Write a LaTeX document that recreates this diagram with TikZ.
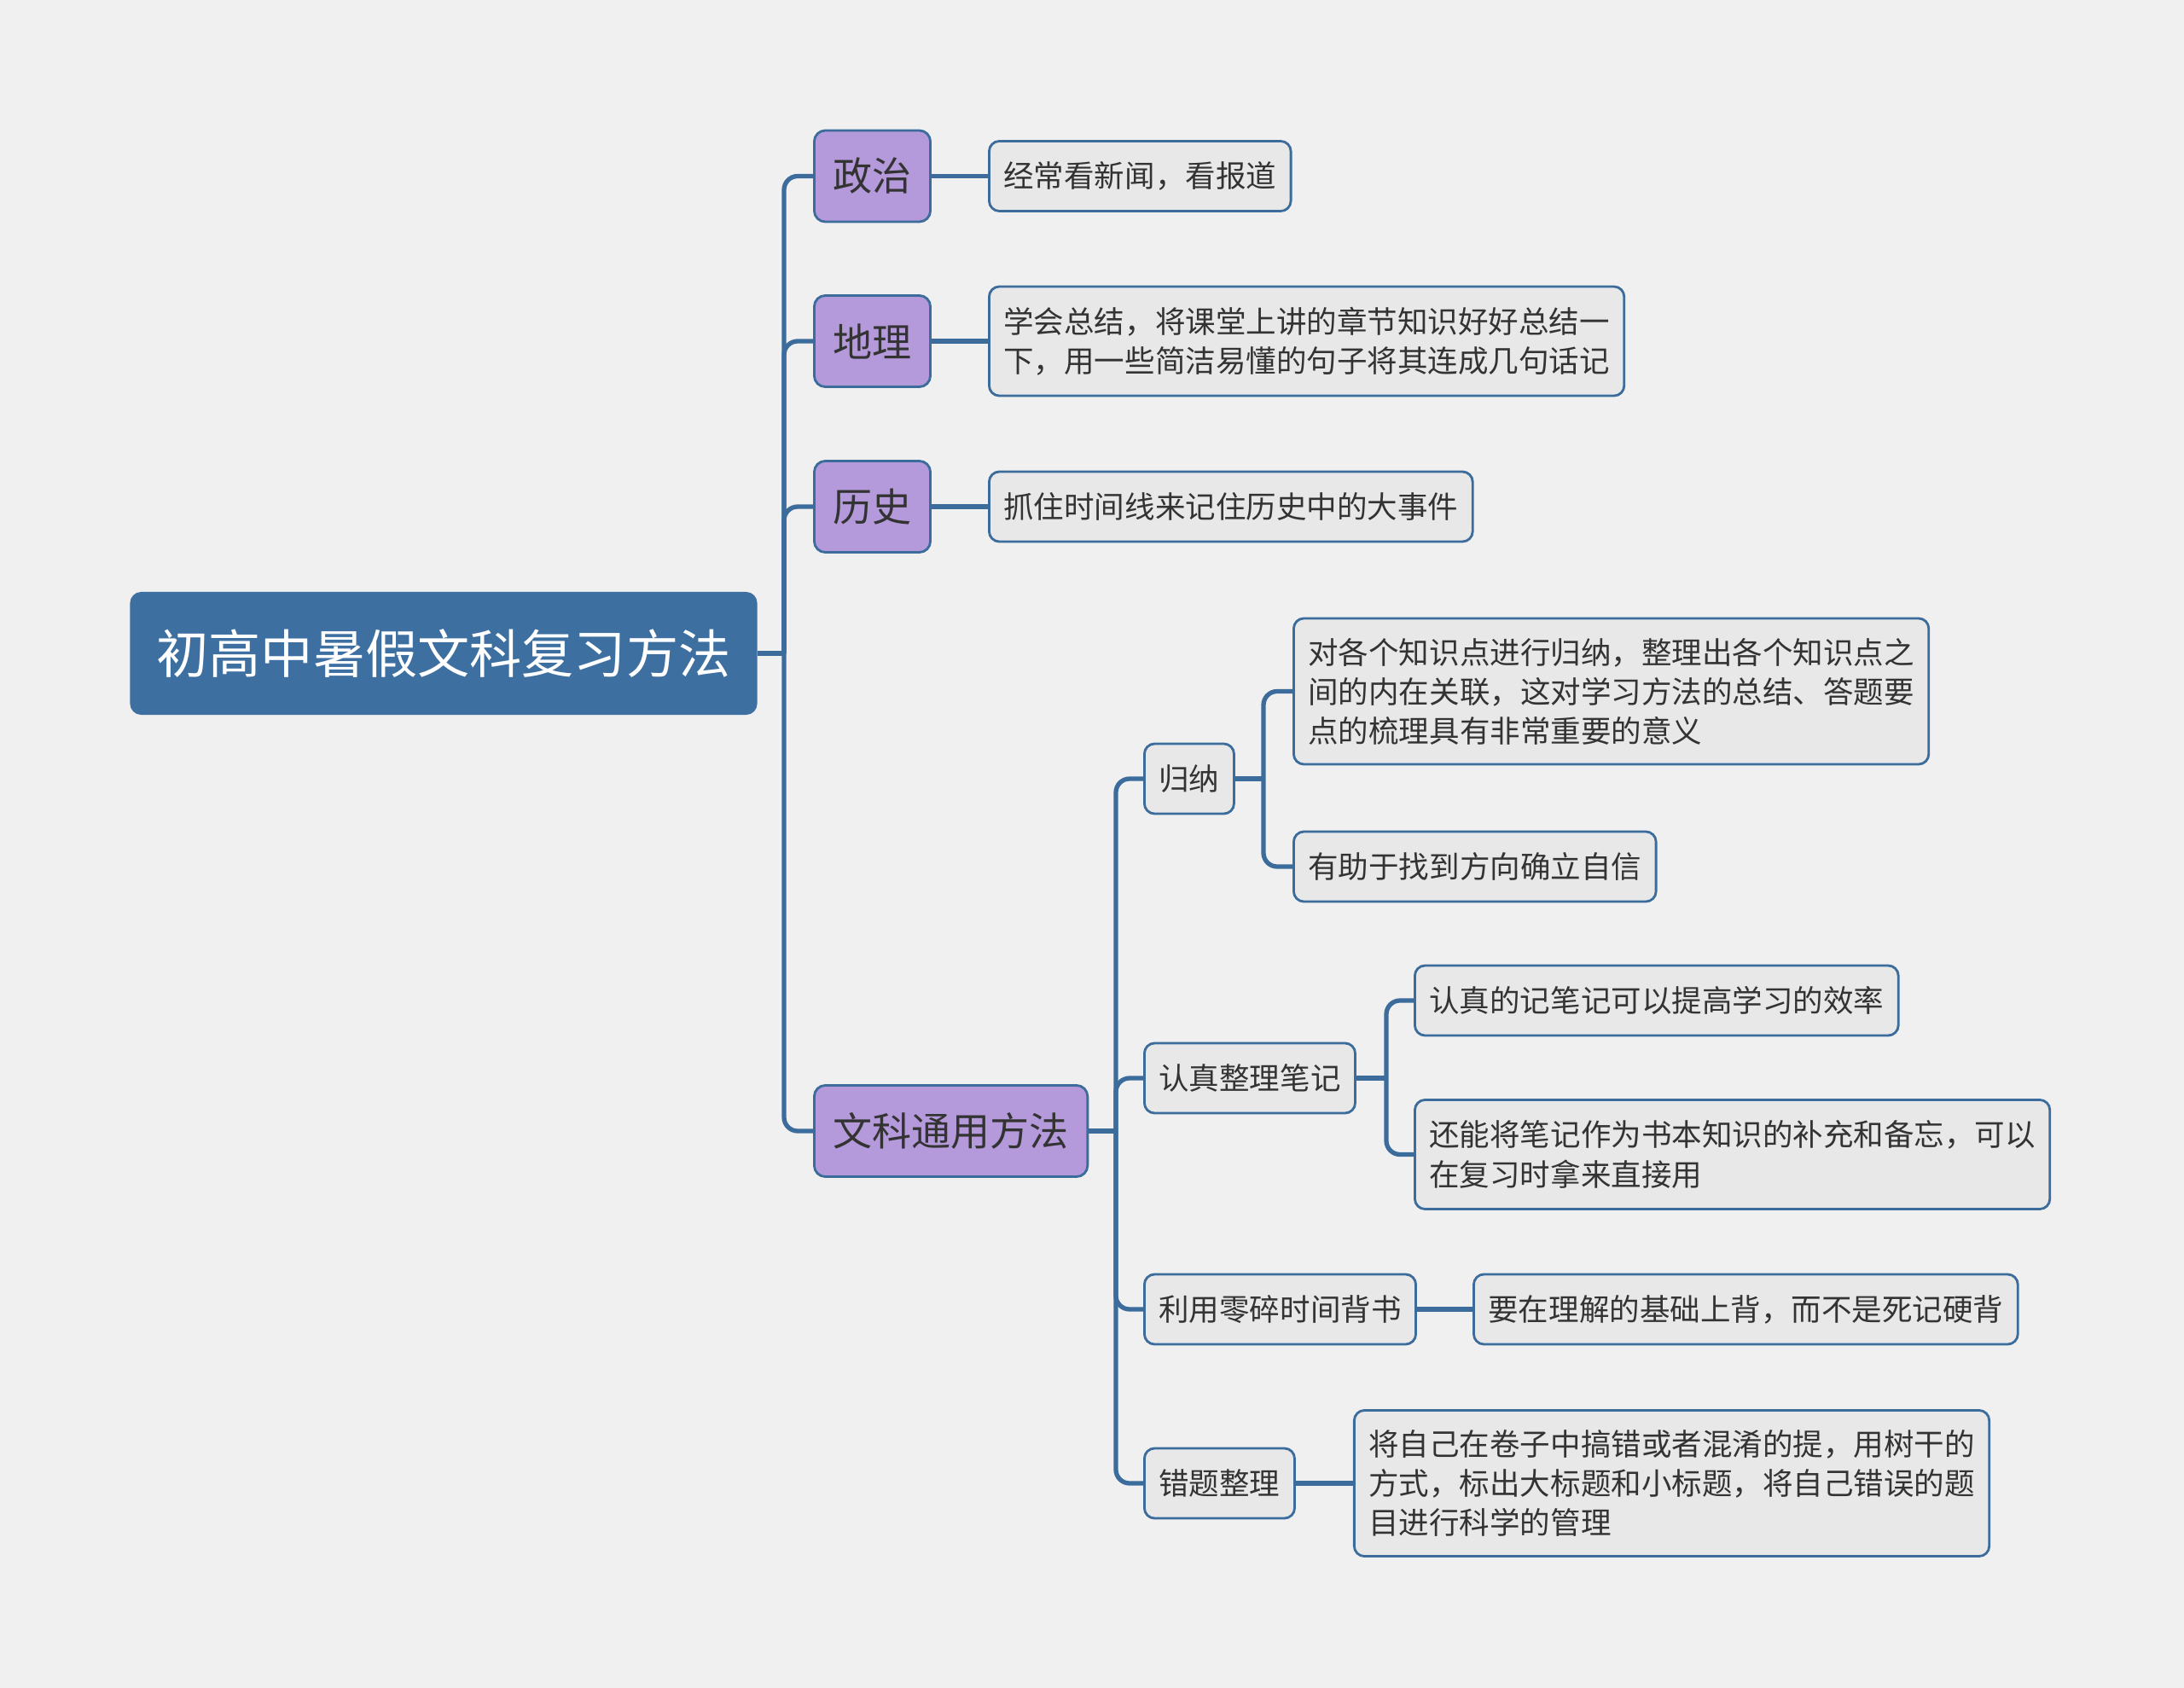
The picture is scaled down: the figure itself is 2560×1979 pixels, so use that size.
\documentclass[tikz,border=0pt]{standalone}
\usepackage{fontspec}
\setmainfont{Noto Sans CJK SC}
\usepackage{xcolor}
\usepackage{tikz}
\usetikzlibrary{positioning}

\definecolor{bgcol}{HTML}{F0F0F0}
\definecolor{rootblue}{HTML}{3D6FA0}
\definecolor{linkblue}{HTML}{3B6C9C}
\definecolor{topicpurple}{HTML}{B59ADB}
\definecolor{leafgray}{HTML}{E8E8E8}
\definecolor{txtgray}{HTML}{333333}

\begin{document}
\begin{tikzpicture}[x=0.01cm, y=-0.01cm,
    rootbox/.style={fill=rootblue, rounded corners=0.13cm, text=white, font=\fontsize{17.4pt}{21pt}\selectfont, inner xsep=0.31cm, minimum height=1.44cm},
    topicbox/.style={draw=linkblue, line width=0.8pt, fill=topicpurple, rounded corners=0.13cm, text=txtgray, font=\fontsize{13.1pt}{16pt}\selectfont, inner xsep=0.22cm, minimum height=1.07cm},
    subbox/.style={draw=linkblue, line width=0.8pt, fill=leafgray, rounded corners=0.12cm, text=txtgray, font=\fontsize{10.1pt}{13.1pt}\selectfont, inner xsep=0.17cm, inner ysep=0.1cm, minimum height=0.82cm, align=left},
    link/.style={draw=linkblue, line width=1.5pt},
    elbow/.style={link, rounded corners=0.16cm}
]
\fill[bgcol] (0,0) rectangle (2560,1979);
\useasboundingbox (0,0) rectangle (2560,1979);

% Root
\node[rootbox] (root) at (520,766) {初高中暑假文科复习方法};
\coordinate (s1) at (919,766);

% Subjects
\node[topicbox, anchor=west] (zhengzhi) at (953,206.5) {政治};
\node[topicbox, anchor=west] (dili) at (953,400) {地理};
\node[topicbox, anchor=west] (lishi) at (953,594) {历史};
\node[topicbox, anchor=west] (tongyong) at (953,1326) {文科通用方法};

\draw[link] (root.east) -- (s1);
\foreach \n in {zhengzhi, dili, lishi, tongyong}
    \draw[elbow] (s1) |- (\n.west);

% Subject tips
\node[subbox, right=0.66cm of zhengzhi] (zzTip) {经常看新闻，看报道};
\node[subbox, right=0.66cm of dili, minimum height=1.28cm] (dlTip) {学会总结，将课堂上讲的章节知识好好总结一\\下，用一些简洁易懂的句子将其连成几句话记};
\node[subbox, right=0.66cm of lishi] (lsTip) {抓住时间线来记住历史中的大事件};
\draw[link] (zhengzhi) -- (zzTip);
\draw[link] (dili) -- (dlTip);
\draw[link] (lishi) -- (lsTip);

% General methods
\coordinate (s2) at (1308,1326);
\node[subbox, anchor=west] (guina) at (1340,913) {归纳};
\node[subbox, anchor=west] (biji) at (1340,1264) {认真整理笔记};
\node[subbox, anchor=west] (liyong) at (1340,1535) {利用零碎时间背书};
\node[subbox, anchor=west] (cuoti) at (1340,1739) {错题整理};
\draw[link] (tongyong.east) -- (s2);
\foreach \n in {guina, biji, liyong, cuoti}
    \draw[elbow] (s2) |- (\n.west);

% Induction
\coordinate (s3) at (1481,913);
\node[subbox, anchor=west, minimum height=1.71cm] (gnA) at (1515,810.5) {对各个知识点进行归纳，整理出各个知识点之\\间的内在关联，这对学习方法的总结、答题要\\点的梳理具有非常重要的意义};
\node[subbox, anchor=west] (gnB) at (1515,1016) {有助于找到方向确立自信};
\draw[link] (guina.east) -- (s3);
\draw[elbow] (s3) |- (gnA.west);
\draw[elbow] (s3) |- (gnB.west);

% Notes
\coordinate (s4) at (1625,1264);
\node[subbox, anchor=west] (bjA) at (1657,1173) {认真的记笔记可以提高学习的效率};
\node[subbox, anchor=west, minimum height=1.28cm] (bjB) at (1657,1353.5) {还能将笔记作为书本知识的补充和备忘，可以\\在复习时拿来直接用};
\draw[link] (biji.east) -- (s4);
\draw[elbow] (s4) |- (bjA.west);
\draw[elbow] (s4) |- (bjB.west);

% Spare time, mistakes
\node[subbox, right=0.65cm of liyong] (lyTip) {要在理解的基础上背，而不是死记硬背};
\node[subbox, right=0.67cm of cuoti, minimum height=1.71cm] (ctTip) {将自己在卷子中搞错或者混淆的提，用树干的\\方式，标出大标题和小标题，将自己错误的题\\目进行科学的管理};
\draw[link] (liyong) -- (lyTip);
\draw[link] (cuoti) -- (ctTip);
\end{tikzpicture}
\end{document}
